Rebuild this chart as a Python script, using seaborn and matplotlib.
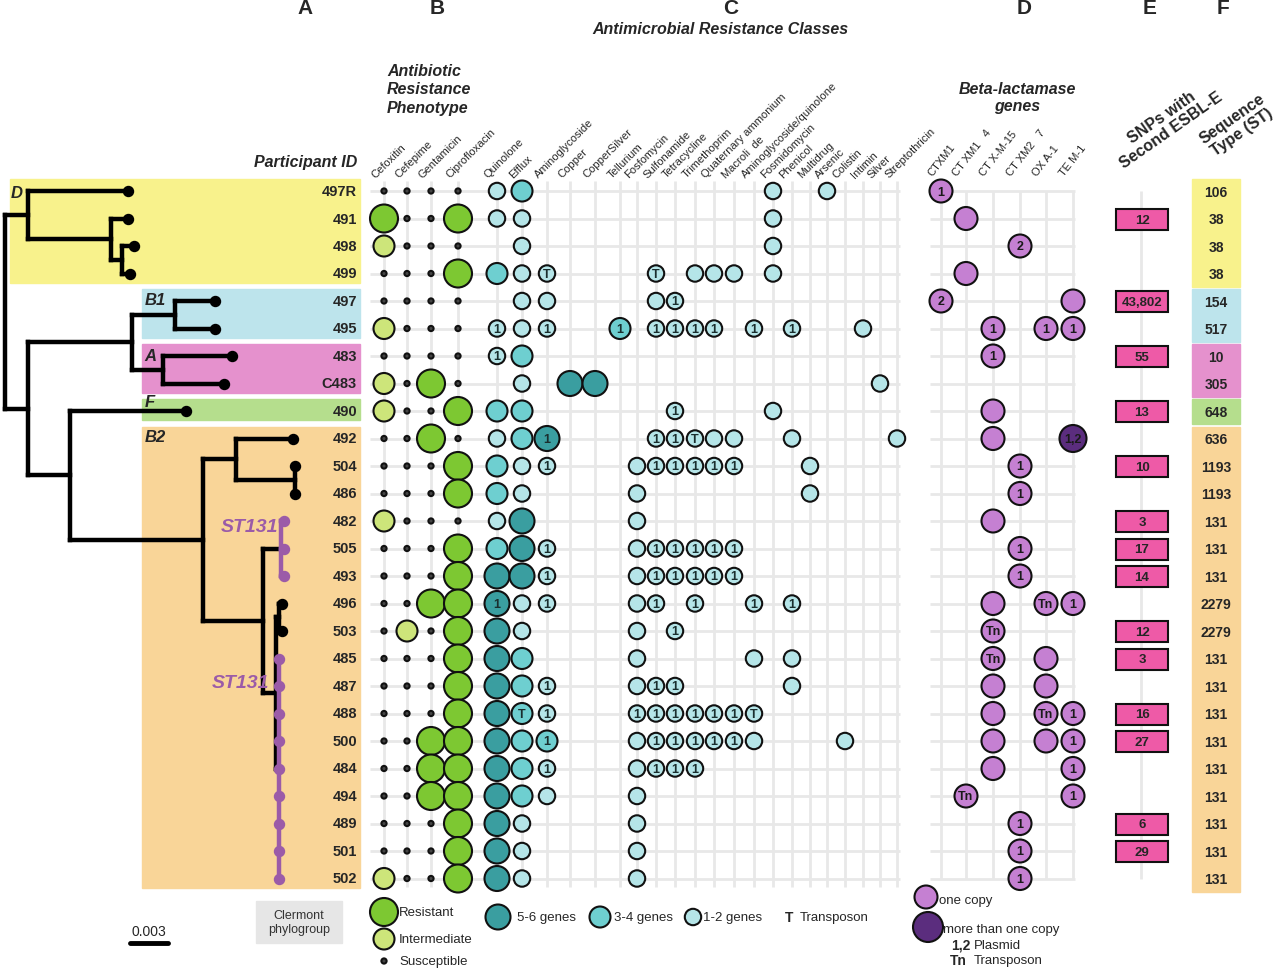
import matplotlib
matplotlib.use("Agg")
import matplotlib.pyplot as plt
from matplotlib import font_manager
from matplotlib.patches import Rectangle
import numpy as np
import pandas as pd
import seaborn as sns

# ---- data ----
participants = ["497R", "491", "498", "499", "497", "495", "483", "C483", "490", "492",
                "504", "486", "482", "505", "493", "496", "503", "485", "487", "488",
                "500", "484", "494", "489", "501", "502"]
phylogroups = ["D"] * 4 + ["B1"] * 2 + ["A"] * 2 + ["F"] + ["B2"] * 17
sequence_types = ["106", "38", "38", "38", "154", "517", "10", "305", "648", "636",
                  "1193", "1193", "131", "131", "131", "2279", "2279", "131", "131", "131",
                  "131", "131", "131", "131", "131", "131"]
snp_counts = ["", "12", "", "", "43,802", "", "55", "", "13", "", "10", "", "3", "17", "14",
              "", "12", "3", "", "16", "27", "", "", "6", "29", ""]

antibiotics = ["Cefoxitin", "Cefepime", "Gentamicin", "Ciprofloxacin"]
# R resistant, I intermediate, S susceptible
phenotype = ["SSSS", "RSSR", "ISSS", "SSSR", "SSSS", "ISSS", "SSSS", "ISRS", "ISSR", "SSRS",
             "SSSR", "SSSR", "ISSS", "SSSR", "SSSR", "SSRR", "SISR", "SSSR", "SSSR", "SSSR",
             "SSRR", "SSRR", "SSRR", "SSSR", "SSSR", "ISSR"]

amr_classes = ["Quinolone", "Efflux", "Aminoglycoside", "Copper", "CopperSilver", "Tellurium",
               "Fosfomycin", "Sulfonamide", "Tetracycline", "Trimethoprim", "Quaternary ammonium",
               "Macroli  de", "Aminoglycoside/quinolone", "Fosmidomycin", "Phenicol", "Multidrug",
               "Arsenic", "Colistin", "Intimin", "Silver", "Streptothricin"]
# s 1-2 genes, m 3-4 genes, h 5-6 genes; suffix 1 / T = label in circle
amr_genes = [
    "s m . . . . . . . . . . . s . . s . . . .",
    "s s . . . . . . . . . . . s . . . . . . .",
    ". s . . . . . . . . . . . s . . . . . . .",
    "m s sT . . . . sT . s s s . s . . . . . . .",
    ". s s . . . . s s1 . . . . . . . . . . . .",
    "s1 s s1 . . m1 . s1 s1 s1 s1 . s1 . s1 . . . s . .",
    "s1 m . . . . . . . . . . . . . . . . . . .",
    ". s . h h . . . . . . . . . . . . . . s .",
    "m m . . . . . . s1 . . . . s . . . . . . .",
    "s m h1 . . . . s1 s1 sT s s . . s . . . . . s",
    "m s s1 . . . s s1 s1 s1 s1 s1 . . . s . . . . .",
    "m s . . . . s . . . . . . . . s . . . . .",
    "s h . . . . s . . . . . . . . . . . . . .",
    "m h s1 . . . s s1 s1 s1 s1 s1 . . . . . . . . .",
    "h h s1 . . . s s1 s1 s1 s1 s1 . . . . . . . . .",
    "h1 s s1 . . . s s1 . s1 . . s1 . s1 . . . . . .",
    "h s . . . . s . s1 . . . . . . . . . . . .",
    "h m . . . . s . . . . . s . s . . . . . .",
    "h m s1 . . . s s1 s1 . . . . . s . . . . . .",
    "h mT s1 . . . s1 s1 s1 s1 s1 s1 sT . . . . . . . .",
    "h m m1 . . . s s1 s1 s1 s1 s1 s . . . . s . . .",
    "h m s1 . . . s s1 s1 s1 . . . . . . . . . . .",
    "h m s . . . s . . . . . . . . . . . . . .",
    "h s . . . . s . . . . . . . . . . . . . .",
    "h s . . . . s . . . . . . . . . . . . . .",
    "h s . . . . s . . . . . . . . . . . . . .",
]

bla_genes = ["CTXM1", "CT XM1   4", "CT X-M-15", "CT XM2   7", "OX A-1", "TE M-1"]
# o one copy, 1/2/Tn one copy with label, D12 more than one copy (plasmid 1,2)
bla_calls = [
    "1 . . . . .", ". o . . . .", ". . . 2 . .", ". o . . . .", "2 . . . . o",
    ". . 1 . 1 1", ". . 1 . . .", ". . . . . .", ". . o . . .", ". . o . . D12",
    ". . . 1 . .", ". . . 1 . .", ". . o . . .", ". . . 1 . .", ". . . 1 . .",
    ". . o . Tn 1", ". . Tn . . .", ". . Tn . o .", ". . o . o .", ". . o . Tn 1",
    ". . o . o 1", ". . o . . 1", ". Tn . . . 1", ". . . 1 . .", ". . . 1 . .",
    ". . . 1 . .",
]

# tree: (name, depth in 0.001 substitutions, children)
tree = ("root", 0.0, [
    ("nD", 1.8, [("497R", 9.7, []),
                 ("nD1", 8.4, [("491", 9.7, []),
                               ("nD2", 9.2, [("498", 10.2, []), ("499", 9.9, [])])])]),
    ("n1", 1.8, [
        ("n2", 10.0, [("nB1", 13.4, [("497", 16.6, []), ("495", 16.6, [])]),
                      ("nA", 12.5, [("483", 17.9, []), ("C483", 17.3, [])])]),
        ("n3", 5.1, [
            ("490", 14.3, []),
            ("nB2", 15.6, [
                ("n4", 18.2, [("492", 22.7, []),
                              ("n5", 22.9, [("504", 22.9, []), ("486", 22.9, [])])]),
                ("n6", 20.4, [
                    ("st131a", 21.8, [("482", 22.0, []), ("505", 22.0, []), ("493", 22.0, [])]),
                    ("n7", 21.4, [
                        ("n8", 21.6, [("496", 21.9, []), ("503", 21.9, [])]),
                        ("st131b", 21.6, [(p, 21.6, []) for p in
                                          ["485", "487", "488", "500", "484", "494", "489", "501", "502"]]),
                    ]),
                ]),
            ]),
        ]),
    ]),
])
st131_nodes = {"st131a", "st131b"}

# ---- layout ----
row_y0, row_step = 192, 27.5
row_y = {p: row_y0 + i * row_step for i, p in enumerate(participants)}
b_cols_x = [384, 407, 431, 458]
c_cols_x = [497, 522, 547, 570, 595, 620, 637, 656, 675, 695, 714, 734, 754, 773, 792, 810,
            827, 845, 863, 880, 897]
d_cols_x = [941, 966, 993, 1020, 1046, 1073]
tree_x0, px_per_unit = 5, 38 / 3.0  # 0.003 -> 38 px
group_label_pos = {"D": (17, 194), "B1": (155, 301), "A": (150, 357), "F": (150, 403), "B2": (155, 438)}

group_colors = {"D": "#F8F28C", "B1": "#BDE4EC", "A": "#E591CD", "F": "#B5DE8D", "B2": "#F9D598"}
green_r, green_i = "#7DC832", "#CDE57A"
teal = {"h": "#3A9EA0", "m": "#6ECFD0", "s": "#B5E5E8"}
purple_one, purple_many = "#C580D2", "#5B2D7E"
st_purple = "#9B5BA8"
grid_c = "#E8E8E8"
pheno_pal = {"R": green_r, "I": green_i, "S": "#444444"}
pheno_sizes = None  # filled below


def msize(r):
    return (2 * r * 0.72) ** 2


pheno_sizes = {"R": msize(14), "I": msize(10.5), "S": msize(2.6)}

sns.set_theme(style="white")
avail = {f.name for f in font_manager.fontManager.ttflist}
narrow = "Liberation Sans Narrow" if "Liberation Sans Narrow" in avail else "Liberation Sans"
plt.rcParams["font.family"] = ["Liberation Sans", "DejaVu Sans"]

fig = plt.figure(figsize=(12.8, 9.7), dpi=100)
ax = fig.add_axes([0, 0, 1, 1])
ax.set_xlim(0, 1280)
ax.set_ylim(970, 0)
ax.axis("off")

# group backgrounds + ST strips
for g in ["D", "B1", "A", "F", "B2"]:
    ys = [row_y[p] for p, gg in zip(participants, phylogroups) if gg == g]
    top, bot = min(ys) - 12, max(ys) + 9
    left = 10 if g == "D" else 142
    ax.add_patch(Rectangle((left, top), 360 - left, bot - top, color=group_colors[g], zorder=0))
    ax.add_patch(Rectangle((1192, top), 48, bot - top + 4, color=group_colors[g], zorder=0))
    lx, ly = group_label_pos[g]
    ax.text(lx, ly, g, fontsize=12, fontweight="bold", fontstyle="italic", ha="center", va="center",
            zorder=4)

# tree
pos = {}


def layout(node):
    name, depth, kids = node
    x = tree_x0 + depth * px_per_unit
    if not kids:
        y = row_y[name]
    else:
        ys = [layout(k)[1] for k in kids]
        y = (ys[0] + ys[-1]) / 2
    pos[name] = (x, y)
    return x, y


layout(tree)


def draw(node, purple=False):
    name, depth, kids = node
    x, y = pos[name]
    col = st_purple if purple else "black"
    if kids:
        ky = [pos[k[0]][1] for k in kids]
        ax.plot([x, x], [min(ky), max(ky)], color=col, lw=3.2, solid_capstyle="projecting", zorder=2)
        for k in kids:
            kp = purple or k[0] in st131_nodes
            kx, kyy = pos[k[0]]
            ax.plot([x, kx], [kyy, kyy], color=st_purple if (purple and kp) else "black",
                    lw=3.2, solid_capstyle="projecting", zorder=2)
            draw(k, kp)
    else:
        ax.scatter([x], [y], s=msize(5), color=col, zorder=3)


draw(tree)
ax.text(pos["st131a"][0] - 3, row_y["482"] + 6, "ST131", color=st_purple, fontsize=14,
        fontweight="bold", fontstyle="italic", ha="right", va="center", zorder=4)
ax.text(pos["st131b"][0] - 9, (row_y["485"] + row_y["487"]) / 2 + 10, "ST131", color=st_purple,
        fontsize=14, fontweight="bold", fontstyle="italic", ha="right", va="center", zorder=4)

# participant IDs
for p in participants:
    ax.text(357, row_y[p], p, fontsize=10.5, fontweight="bold", ha="right", va="center")

# grid lines
y_first, y_last = row_y[participants[0]], row_y[participants[-1]]
ax.hlines(list(row_y.values()), 370, 900, color=grid_c, lw=2, zorder=1)
ax.vlines(b_cols_x + c_cols_x, y_first - 10, y_last + 8, color=grid_c, lw=2, zorder=1)
ax.hlines(list(row_y.values()), 930, 1075, color=grid_c, lw=2, zorder=1)
ax.vlines(d_cols_x, y_first, y_last, color=grid_c, lw=2, zorder=1)
ax.vlines([1141], y_first, y_last, color=grid_c, lw=2, zorder=1)

# B phenotype
b_rows = []
for p, code in zip(participants, phenotype):
    for j, c in enumerate(code):
        b_rows.append({"x": b_cols_x[j], "y": row_y[p], "call": c})
b_df = pd.DataFrame(b_rows)
sns.scatterplot(data=b_df, x="x", y="y", hue="call", size="call", palette=pheno_pal,
                sizes=pheno_sizes, edgecolor="#111111", linewidth=1.5, legend=False, ax=ax, zorder=3)

# C resistance classes
c_rows = []
for p, line in zip(participants, amr_genes):
    for j, tok in enumerate(line.split()):
        if tok == ".":
            continue
        c_rows.append({"x": c_cols_x[j], "y": row_y[p], "level": tok[0], "mark": tok[1:]})
c_df = pd.DataFrame(c_rows)
sns.scatterplot(data=c_df, x="x", y="y", hue="level", size="level", palette=teal,
                sizes={"h": msize(12.5), "m": msize(10.5), "s": msize(8.2)},
                edgecolor="#111111", linewidth=1.5, legend=False, ax=ax, zorder=3)
for _, r in c_df[c_df["mark"] != ""].iterrows():
    ax.text(r["x"], r["y"] + 0.5, r["mark"], fontsize=9, fontweight="bold", color="#1a2e2e",
            ha="center", va="center", zorder=4)

# D beta-lactamase
d_rows = []
for p, line in zip(participants, bla_calls):
    for j, tok in enumerate(line.split()):
        if tok == ".":
            continue
        many = tok.startswith("D")
        label = "1,2" if many else ("" if tok == "o" else tok)
        d_rows.append({"x": d_cols_x[j], "y": row_y[p], "copies": "many" if many else "one",
                       "label": label})
d_df = pd.DataFrame(d_rows)
sns.scatterplot(data=d_df, x="x", y="y", hue="copies", size="copies",
                palette={"one": purple_one, "many": purple_many},
                sizes={"one": msize(11.5), "many": msize(13.5)},
                edgecolor="#111111", linewidth=1.5, legend=False, ax=ax, zorder=3)
for _, r in d_df[d_df["label"] != ""].iterrows():
    ax.text(r["x"], r["y"] + 0.5, r["label"], fontsize=9, fontweight="bold", color="#1a1a1a",
            ha="center", va="center", zorder=4)

# E SNPs
for p, s in zip(participants, snp_counts):
    if s:
        ax.add_patch(Rectangle((1116, row_y[p] - 10), 52, 21, facecolor="#EE5AA7",
                               edgecolor="#111111", lw=1.5, zorder=3))
        ax.text(1142, row_y[p] + 1, s, fontsize=9.5, fontweight="bold", ha="center", va="center", zorder=4)

# F sequence type
for p, st in zip(participants, sequence_types):
    ax.text(1216, row_y[p] + 1, st, fontsize=10, fontweight="bold", ha="center", va="center", zorder=4)

# column labels
for x, lab in zip(b_cols_x + c_cols_x, antibiotics + amr_classes):
    ax.text(x - 7, 180, lab, fontsize=8, family=narrow, rotation=45, rotation_mode="anchor",
            ha="left", va="bottom")
for x, lab in zip(d_cols_x, bla_genes):
    ax.text(x - 7, 178, lab, fontsize=8, family=narrow, rotation=52, rotation_mode="anchor",
            ha="left", va="bottom")

# headers
for x, letter in zip([305, 437, 731, 1024, 1150, 1223], "ABCDEF"):
    ax.text(x, 9, letter, fontsize=15, fontweight="bold", ha="center", va="center")
ax.text(720, 30, "Antimicrobial Resistance Classes", fontsize=11.5, fontweight="bold",
        fontstyle="italic", ha="center", va="center")
ax.text(387, 90, "Antibiotic\nResistance\nPhenotype", fontsize=11.5, fontweight="bold",
        fontstyle="italic", ha="left", va="center", linespacing=1.3)
ax.text(1017, 98, "Beta-lactamase\ngenes", fontsize=11.5, fontweight="bold",
        fontstyle="italic", ha="center", va="center", linespacing=1.25)
ax.text(1166, 124, "SNPs with\nSecond ESBL-E", fontsize=11.5, fontweight="bold", rotation=35,
        ha="center", va="center", linespacing=1.1)
ax.text(1237, 126, "Sequence\nType (ST)", fontsize=11.5, fontweight="bold", rotation=35,
        ha="center", va="center", linespacing=1.1)
ax.text(357, 163, "Participant ID", fontsize=11.5, fontweight="bold", fontstyle="italic",
        ha="right", va="center")

# bottom: scale bar, clermont box
ax.plot([130, 130 + 3 * px_per_unit], [944, 944], color="black", lw=3.5)
ax.text(149, 932, "0.003", fontsize=10, ha="center", va="center")
ax.add_patch(Rectangle((256, 902), 86, 42, color="#E6E6E6", zorder=1))
ax.text(299, 923, "Clermont\nphylogroup", fontsize=9, color="#333333", ha="center", va="center",
        linespacing=1.15)

# legends
leg_b = pd.DataFrame({"x": [384, 384, 384], "y": [913, 940, 962], "call": ["R", "I", "S"],
                      "txt": ["Resistant", "Intermediate", "Susceptible"]})
sns.scatterplot(data=leg_b, x="x", y="y", hue="call", size="call", palette=pheno_pal,
                sizes=pheno_sizes, edgecolor="#111111", linewidth=1.5, legend=False, ax=ax, zorder=3)
for _, r in leg_b.iterrows():
    ax.text(r["x"] + 15, r["y"], r["txt"], fontsize=9.5, ha="left", va="center")

leg_c = pd.DataFrame({"x": [498, 600, 693], "y": [918, 918, 918], "level": ["h", "m", "s"],
                      "txt": ["5-6 genes", "3-4 genes", "1-2 genes"]})
sns.scatterplot(data=leg_c, x="x", y="y", hue="level", size="level", palette=teal,
                sizes={"h": msize(12.5), "m": msize(10.5), "s": msize(8.2)},
                edgecolor="#111111", linewidth=1.5, legend=False, ax=ax, zorder=3)
for _, r in leg_c.iterrows():
    ax.text(r["x"] + {"h": 19, "m": 14, "s": 10}[r["level"]], r["y"], r["txt"], fontsize=9.5,
            ha="left", va="center")
ax.text(789, 918, "T", fontsize=10, fontweight="bold", ha="center", va="center")
ax.text(800, 918, "Transposon", fontsize=9.5, ha="left", va="center")

leg_d = pd.DataFrame({"x": [926, 928], "y": [898, 928], "copies": ["one", "many"],
                      "txt": ["one copy", "more than one copy"]})
sns.scatterplot(data=leg_d, x="x", y="y", hue="copies", size="copies",
                palette={"one": purple_one, "many": purple_many},
                sizes={"one": msize(11.5), "many": msize(15)},
                edgecolor="#111111", linewidth=1.5, legend=False, ax=ax, zorder=3)
ax.text(939, 901, "one copy", fontsize=9.5, ha="left", va="center")
ax.text(943, 930, "more than one copy", fontsize=9.5, ha="left", va="center")
ax.text(961, 946, "1,2", fontsize=10, fontweight="bold", ha="center", va="center")
ax.text(974, 946, "Plasmid", fontsize=9.5, ha="left", va="center")
ax.text(958, 961, "Tn", fontsize=10, fontweight="bold", ha="center", va="center")
ax.text(974, 961, "Transposon", fontsize=9.5, ha="left", va="center")

fig.savefig("out.png", dpi=100)
